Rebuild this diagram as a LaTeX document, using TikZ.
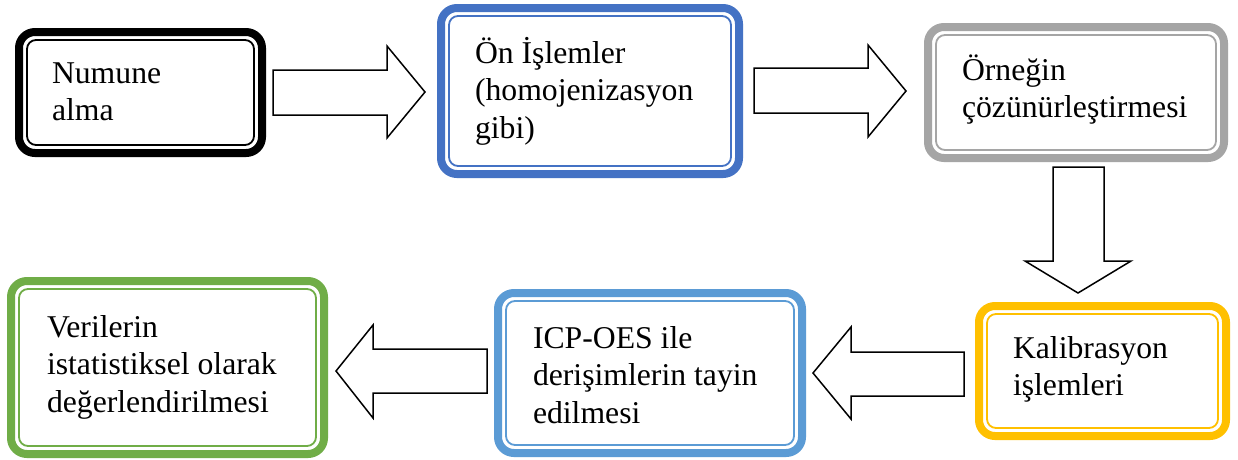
\documentclass[tikz,border=0pt]{standalone}
\usepackage{fontspec}
\setmainfont{Liberation Serif}
\usetikzlibrary{calc}
\definecolor{cBlack}{HTML}{000000}
\definecolor{cBlue}{HTML}{4472C4}
\definecolor{cGray}{HTML}{A5A5A5}
\definecolor{cGold}{HTML}{FFC000}
\definecolor{cLBlue}{HTML}{5B9BD5}
\definecolor{cGreen}{HTML}{70AD47}
\tikzset{
  boxo/.style={draw=#1, line width=8pt, rounded corners=16pt, rectangle, outer sep=0pt, inner sep=0pt},
  boxi/.style={draw=#1, line width=1.8pt, rounded corners=9pt},
  blockarrow/.style={draw=black, line width=1.5pt, fill=white, line join=miter},
  txt/.style={anchor=base west, inner sep=0pt, outer sep=0pt, font=\fontsize{31.7pt}{37.5pt}\selectfont}
}
\newcommand{\lines}[1]{\parbox[t]{12cm}{\raggedright #1}}
\begin{document}
\begin{tikzpicture}[x=1pt,y=-1pt]
\useasboundingbox[fill=white] (0,0) rectangle (1238,459);
% boxes
\node[boxo=cBlack, minimum width=243pt, minimum height=121pt] (b1) at (140.5,92.5) {};
\node[boxo=cBlue,  minimum width=298pt, minimum height=166pt] (b2) at (590,91) {};
\node[boxo=cGray,  minimum width=296pt, minimum height=131pt] (b3) at (1076,92.5) {};
\node[boxo=cGold,  minimum width=247pt, minimum height=130pt] (b4) at (1102.5,371) {};
\node[boxo=cLBlue, minimum width=304pt, minimum height=160pt] (b5) at (650,373) {};
\node[boxo=cGreen, minimum width=313pt, minimum height=173pt] (b6) at (167.5,367.5) {};
\foreach \n/\c in {b1/cBlack,b2/cBlue,b3/cGray,b4/cGold,b5/cLBlue,b6/cGreen}
  \draw[boxi=\c] ($(\n.north west)+(8,8)$) rectangle ($(\n.south east)+(-8,-8)$);
% texts
\node[txt] (t1) at (52,83) {\lines{Numune\\alma}};
\node[txt] (t2) at (475,63) {\lines{Ön İşlemler\\(homojenizasyon\\gibi)}};
\node[txt] (t3) at (962,80) {\lines{Örneğin\\çözünürleştirmesi}};
\node[txt] (t4) at (1013,358) {\lines{Kalibrasyon\\işlemleri}};
\node[txt] (t5) at (533,348) {\lines{ICP-OES ile\\derişimlerin tayin\\edilmesi}};
\node[txt] (t6) at (47,337) {\lines{Verilerin\\istatistiksel olarak\\değerlendirilmesi}};
% block arrows
\draw[blockarrow] (273,70) -- (387,70) -- (387,46) -- (425,92) -- (387,138) -- (387,115) -- (273,115) -- cycle;
\draw[blockarrow] (754,68) -- (868,68) -- (868,45) -- (906,91) -- (868,137) -- (868,113) -- (754,113) -- cycle;
\draw[blockarrow] (1053,167) -- (1104,167) -- (1104,261) -- (1131,261) -- (1078,293) -- (1025,261) -- (1053,261) -- cycle;
\draw[blockarrow] (964,352) -- (851,352) -- (851,327) -- (813,373) -- (851,419) -- (851,396) -- (964,396) -- cycle;
\draw[blockarrow] (487,349) -- (373,349) -- (373,325) -- (336,371) -- (373,418) -- (373,393) -- (487,393) -- cycle;
\end{tikzpicture}
\end{document}
